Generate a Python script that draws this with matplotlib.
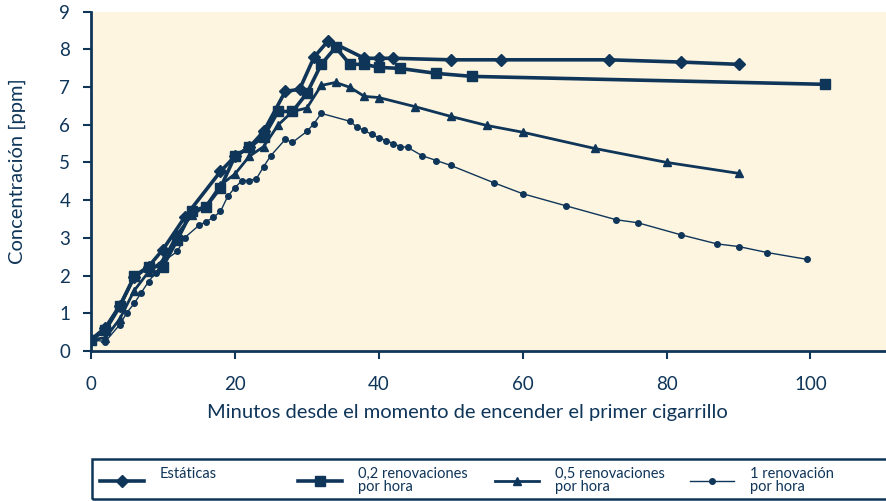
import matplotlib.pyplot as plt
from matplotlib.patches import Rectangle

# Estáticas
t_est = [0, 2, 4, 6, 8, 10, 13, 18, 20, 22, 24, 27, 29, 31, 33, 38, 40, 42, 50, 57, 72, 82, 90]
c_est = [0.3, 0.62, 1.2, 1.95, 2.24, 2.69, 3.54, 4.76, 5.16, 5.4, 5.82, 6.88, 6.94, 7.79, 8.23,
         7.76, 7.76, 7.76, 7.72, 7.72, 7.72, 7.66, 7.6]

# 0,2 renovaciones por hora
t_02 = [0, 2, 4, 6, 8, 10, 12, 14, 16, 18, 20, 22, 24, 26, 28, 30, 32, 34, 36, 38, 40, 43, 48, 53, 102]
c_02 = [0.3, 0.55, 1.18, 1.98, 2.24, 2.24, 2.95, 3.7, 3.83, 4.33, 5.16, 5.4, 5.68, 6.35, 6.35,
        6.83, 7.6, 8.05, 7.6, 7.6, 7.52, 7.49, 7.36, 7.28, 7.07]

# 0,5 renovaciones por hora
t_05 = [0, 2, 4, 6, 8, 10, 12, 14, 16, 18, 20, 22, 24, 26, 28, 30, 32, 34, 36, 38, 40, 45, 50,
        55, 60, 70, 80, 90]
c_05 = [0.3, 0.35, 0.85, 1.6, 2.1, 2.4, 3.1, 3.6, 3.85, 4.4, 4.69, 5.16, 5.42, 5.99, 6.35, 6.44,
        7.04, 7.12, 6.99, 6.75, 6.72, 6.48, 6.22, 5.98, 5.8, 5.37, 5.0, 4.71]

# 1 renovación por hora
t_1 = [0, 2, 4, 5, 6, 7, 8, 9, 10, 12, 13, 15, 16, 17, 18, 19, 20, 21, 22, 23, 24, 25, 27, 28,
       30, 31, 32, 36, 37, 38, 39, 40, 41, 42, 43, 44, 46, 48, 50, 56, 60, 66, 73, 76, 82, 87,
       90, 94, 99.5]
c_1 = [0.3, 0.25, 0.7, 1.02, 1.26, 1.55, 1.84, 2.08, 2.37, 2.64, 3.0, 3.33, 3.43, 3.54, 3.7,
       4.1, 4.33, 4.52, 4.52, 4.57, 4.89, 5.18, 5.61, 5.53, 5.82, 6.03, 6.3, 6.09, 5.93, 5.85,
       5.74, 5.66, 5.58, 5.5, 5.42, 5.4, 5.18, 5.05, 4.92, 4.46, 4.17, 3.85, 3.48, 3.4, 3.08,
       2.84, 2.77, 2.61, 2.43]

etiquetas = ['Estáticas\n', '0,2 renovaciones\npor hora', '0,5 renovaciones\npor hora',
             '1 renovación\npor hora']

navy = '#0f3559'
fondo = '#fdf5df'

plt.rcParams['font.family'] = ['Lato', 'DejaVu Sans']

fig = plt.figure(figsize=(8.86, 5.01), dpi=100)
ax = fig.add_axes([0.1027, 0.2994, 0.8973, 0.6776])
ax.set_facecolor(fondo)

l1, = ax.plot(t_est, c_est, color=navy, lw=2.6, marker='D', ms=6)
l2, = ax.plot(t_02, c_02, color=navy, lw=2.6, marker='s', ms=7)
l3, = ax.plot(t_05, c_05, color=navy, lw=2.0, marker='^', ms=6)
l4, = ax.plot(t_1, c_1, color=navy, lw=1.0, marker='o', ms=4)

ax.set_xlim(0, 110.5)
ax.set_ylim(0, 9)
ax.set_xticks([0, 20, 40, 60, 80, 100])
ax.set_yticks(range(10))

for s in ['top', 'right']:
    ax.spines[s].set_visible(False)
for s in ['left', 'bottom']:
    ax.spines[s].set_color(navy)
    ax.spines[s].set_linewidth(2)
ax.tick_params(colors=navy, labelsize=13.5, width=1.5, length=6)
ax.tick_params(axis='x', pad=12)
ax.tick_params(axis='y', pad=9)

ax.set_xlabel('Minutos desde el momento de encender el primer cigarrillo',
              fontsize=14.5, color=navy, labelpad=8, x=0.473)
ax.set_ylabel('Concentración [ppm]', fontsize=14.5, color=navy, labelpad=24, y=0.53)

# leyenda: marco y una entrada por columna
fig.patches.append(Rectangle((92 / 886, 0.003), 1.0, 0.081, transform=fig.transFigure,
                             fill=False, edgecolor=navy, lw=1.8))
x_col = [100, 298, 495, 690]
for h, txt, xc in zip([l1, l2, l3, l4], etiquetas, x_col):
    lg = fig.legend([h], [txt], loc='upper left', bbox_to_anchor=(xc / 886, 0.068),
                    frameon=False, fontsize=10.5, handlelength=3.0, handletextpad=1.1,
                    borderpad=0, borderaxespad=0, labelcolor=navy)
    for t in lg.get_texts():
        t.set_linespacing(0.95)

fig.savefig('out.png', dpi=100)
